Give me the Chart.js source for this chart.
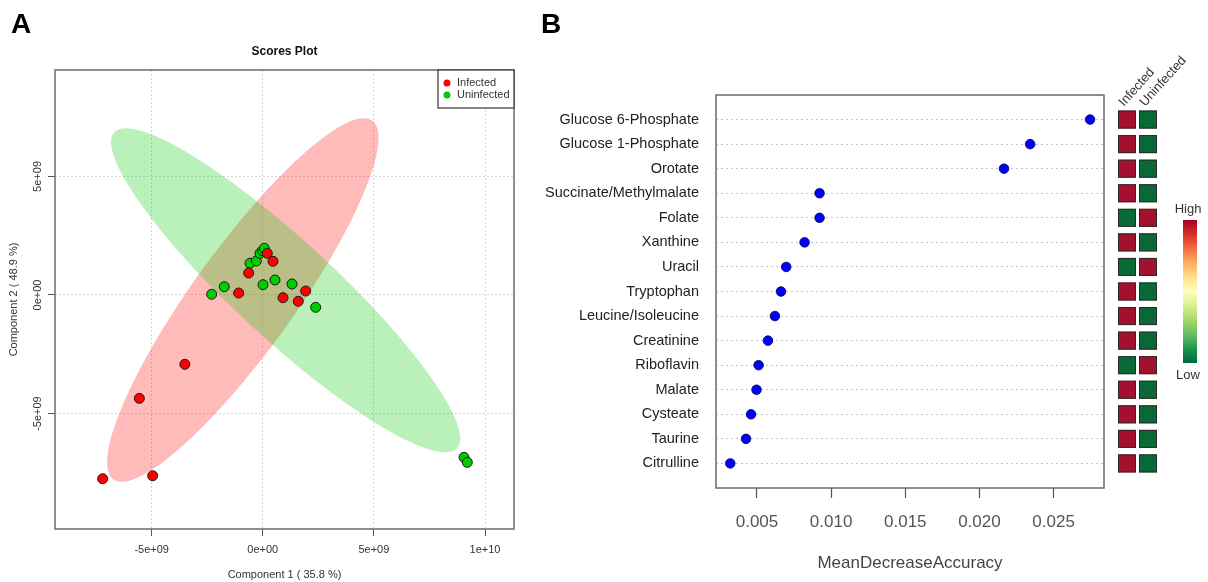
<!DOCTYPE html>
<html lang="en">
<head>
<meta charset="UTF-8">
<title>Scores Plot / MeanDecreaseAccuracy</title>
<script src="https://cdn.jsdelivr.net/npm/chart.js"></script>
<style>
  html, body { margin: 0; padding: 0; background: #fff; }
  #wrap { position: relative; width: 1208px; height: 582px; overflow: hidden; }
  #panelA { position: absolute; left: 0; top: 0; }
  #panelB { position: absolute; left: 540px; top: 0; }
</style>
</head>
<body>
<div id="wrap">
  <canvas id="panelA" width="540" height="582"></canvas>
  <canvas id="panelB" width="668" height="582"></canvas>
</div>
<script>
// ---------- panel A: scores plot ----------
const groupNames = ['Infected', 'Uninfected'];
const groupColors = ['#ff0000', '#00cc00'];
const ellipseFills = ['rgba(255,0,0,0.27)', 'rgba(0,205,0,0.27)'];

const infectedX = [-1.085e9, -0.635e9, 0.203e9, 0.459e9, 0.909e9, 1.598e9, 1.931e9, -3.506e9, -5.554e9, -7.205e9, -4.955e9];
const infectedY = [0.084e9, 0.928e9, 1.759e9, 1.422e9, -0.114e9, -0.266e9, 0.169e9, -2.924e9, -4.359e9, -7.751e9, -7.624e9];
const uninfectedX = [-2.300e9, -1.733e9, -0.576e9, -0.293e9, -0.126e9, -0.005e9, 0.068e9, 0.009e9, 0.549e9, 1.314e9, 2.381e9, 9.055e9, 9.203e9];
const uninfectedY = [0.030e9, 0.350e9, 1.338e9, 1.435e9, 1.759e9, 1.869e9, 1.970e9, 0.435e9, 0.633e9, 0.464e9, -0.519e9, -6.848e9, -7.059e9];

// 95% regions: centre and two conjugate semi-axes (data units)
const infectedEllipseCenter = [-0.898e9, -0.211e9];
const infectedEllipseAxes = [[5.821e9, 7.566e9], [-1.85e9, 1.25e9]];
const uninfectedEllipseCenter = [1.028e9, 0.196e9];
const uninfectedEllipseAxes = [[7.712e9, -6.662e9], [1.50e9, 1.53e9]];

const scoreXTicks = [-5e9, 0, 5e9, 1e10];
const scoreXTickLabels = ['-5e+09', '0e+00', '5e+09', '1e+10'];
const scoreYTicks = [-5e9, 0, 5e9];
const scoreYTickLabels = ['-5e+09', '0e+00', '5e+09'];
const scoreXTitle = 'Component 1 ( 35.8 %)';
const scoreYTitle = 'Component 2 ( 48.9 %)';

// ---------- panel B: variable importance ----------
const metabolites = ['Glucose 6-Phosphate', 'Glucose 1-Phosphate', 'Orotate', 'Succinate/Methylmalate', 'Folate',
  'Xanthine', 'Uracil', 'Tryptophan', 'Leucine/Isoleucine', 'Creatinine', 'Riboflavin', 'Malate',
  'Cysteate', 'Taurine', 'Citrulline'];
const meanDecreaseAccuracy = [0.02746, 0.02342, 0.02166, 0.00922, 0.00922, 0.00821, 0.00697, 0.00662,
  0.00621, 0.00574, 0.00511, 0.00497, 0.00460, 0.00426, 0.00320];
const mdaTicks = [0.005, 0.010, 0.015, 0.020, 0.025];
const mdaTickLabels = ['0.005', '0.010', '0.015', '0.020', '0.025'];
// relative level per group: 1 = high, 0 = low
const infectedLevel   = [1, 1, 1, 1, 0, 1, 0, 1, 1, 1, 0, 1, 1, 1, 1];
const uninfectedLevel = [0, 0, 0, 0, 1, 0, 1, 0, 0, 0, 1, 0, 0, 0, 0];
const heatColors = ['#0a6a37', '#a3112e'];
const scaleStops = ['#a50026', '#d73027', '#f46d43', '#fdae61', '#fee08b', '#ffffbf',
  '#d9ef8b', '#a6d96a', '#66bd63', '#1a9850', '#006837'];

const FONT = '"Liberation Sans", Arial, sans-serif';
Chart.defaults.font.family = FONT;

function drawEllipse(chart, center, axes, fill) {
  const xs = chart.scales.x, ys = chart.scales.y, ctx = chart.ctx;
  const cx = xs.getPixelForValue(center[0]), cy = ys.getPixelForValue(center[1]);
  const ux = xs.getPixelForValue(center[0] + axes[0][0]) - cx;
  const uy = ys.getPixelForValue(center[1] + axes[0][1]) - cy;
  const vx = xs.getPixelForValue(center[0] + axes[1][0]) - cx;
  const vy = ys.getPixelForValue(center[1] + axes[1][1]) - cy;
  ctx.save();
  ctx.beginPath();
  ctx.transform(ux, uy, vx, vy, cx, cy);
  ctx.arc(0, 0, 1, 0, Math.PI * 2);
  ctx.restore();
  ctx.fillStyle = fill;
  ctx.fill();
}

const scoresDecor = {
  id: 'scoresDecor',
  beforeDatasetsDraw(chart) {
    const a = chart.chartArea, ctx = chart.ctx;
    ctx.save();
    ctx.beginPath();
    ctx.rect(a.left, a.top, a.right - a.left, a.bottom - a.top);
    ctx.clip();
    drawEllipse(chart, infectedEllipseCenter, infectedEllipseAxes, ellipseFills[0]);
    drawEllipse(chart, uninfectedEllipseCenter, uninfectedEllipseAxes, ellipseFills[1]);
    ctx.restore();
  },
  afterDraw(chart) {
    const a = chart.chartArea, ctx = chart.ctx, ys = chart.scales.y;
    ctx.save();
    // box
    ctx.strokeStyle = '#6a6a6a';
    ctx.lineWidth = 1.5;
    ctx.strokeRect(a.left, a.top, a.right - a.left, a.bottom - a.top);

    // legend
    const lw = 76, lh = 38;
    ctx.fillStyle = '#fff';
    ctx.fillRect(a.right - lw, a.top, lw, lh);
    ctx.strokeStyle = '#333';
    ctx.lineWidth = 1.2;
    ctx.strokeRect(a.right - lw, a.top, lw, lh);
    ctx.font = '11px ' + FONT;
    ctx.textBaseline = 'middle';
    ctx.textAlign = 'left';
    groupNames.forEach((name, i) => {
      const y = a.top + 13 + i * 12;
      ctx.fillStyle = groupColors[i];
      ctx.beginPath();
      ctx.arc(a.right - lw + 9, y, 3.5, 0, Math.PI * 2);
      ctx.fill();
      ctx.fillStyle = '#333';
      ctx.fillText(name, a.right - lw + 19, y);
    });

    // rotated y tick labels
    ctx.fillStyle = '#333';
    ctx.font = '11px ' + FONT;
    ctx.textAlign = 'center';
    ys.ticks.forEach((t, i) => {
      ctx.save();
      ctx.translate(38, ys.getPixelForValue(t.value));
      ctx.rotate(-Math.PI / 2);
      ctx.fillText(scoreYTickLabels[i], 0, 0);
      ctx.restore();
    });

    // axis titles
    ctx.fillText(scoreXTitle, (a.left + a.right) / 2, 575);
    ctx.save();
    ctx.translate(14, (a.top + a.bottom) / 2);
    ctx.rotate(-Math.PI / 2);
    ctx.fillText(scoreYTitle, 0, 0);
    ctx.restore();

    // title and panel letter
    ctx.fillStyle = '#111';
    ctx.font = 'bold 12px ' + FONT;
    ctx.fillText('Scores Plot', (a.left + a.right) / 2, 52);
    ctx.fillStyle = '#000';
    ctx.font = 'bold 28px ' + FONT;
    ctx.textAlign = 'left';
    ctx.textBaseline = 'alphabetic';
    ctx.fillText('A', 11, 33);
    ctx.restore();
  }
};

new Chart(document.getElementById('panelA'), {
  type: 'scatter',
  data: {
    datasets: [
      {
        label: groupNames[0],
        data: infectedX.map((x, i) => ({ x: x, y: infectedY[i] })),
        backgroundColor: groupColors[0], borderColor: '#1a1a1a', borderWidth: 1, pointRadius: 5
      },
      {
        label: groupNames[1],
        data: uninfectedX.map((x, i) => ({ x: x, y: uninfectedY[i] })),
        backgroundColor: groupColors[1], borderColor: '#1a1a1a', borderWidth: 1, pointRadius: 5
      }
    ]
  },
  options: {
    responsive: false,
    animation: false,
    layout: { padding: { left: 0, top: 70, right: 26, bottom: 0 } },
    plugins: { legend: { display: false }, tooltip: { enabled: false } },
    scales: {
      x: {
        type: 'linear', min: -9.35e9, max: 11.305e9,
        afterBuildTicks: s => { s.ticks = scoreXTicks.map(v => ({ value: v })); },
        afterFit: s => { s.height = 53; },
        ticks: {
          autoSkip: false, maxRotation: 0, color: '#333', font: { size: 11 }, padding: 7,
          callback: (v, i) => scoreXTickLabels[i]
        },
        grid: { color: '#d6d6d6', lineWidth: 1, tickLength: 7, tickColor: '#555', tickWidth: 1 },
        border: { display: false, dash: [2, 2] }
      },
      y: {
        type: 'linear', min: -9.87e9, max: 9.49e9,
        afterBuildTicks: s => { s.ticks = scoreYTicks.map(v => ({ value: v })); },
        afterFit: s => { s.width = 55; },
        ticks: { autoSkip: false, color: 'rgba(0,0,0,0)', font: { size: 11 }, callback: (v, i) => scoreYTickLabels[i] },
        grid: { color: '#d6d6d6', lineWidth: 1, tickLength: 7, tickColor: '#555', tickWidth: 1 },
        border: { display: false, dash: [2, 2] }
      }
    }
  },
  plugins: [scoresDecor]
});

// ---------- panel B ----------
const importanceDecor = {
  id: 'importanceDecor',
  afterDraw(chart) {
    const a = chart.chartArea, ctx = chart.ctx, ys = chart.scales.y;
    ctx.save();
    ctx.strokeStyle = '#6a6a6a';
    ctx.lineWidth = 1.5;
    ctx.strokeRect(a.left, a.top, a.right - a.left, a.bottom - a.top);

    ctx.fillStyle = '#444';
    ctx.font = '17px ' + FONT;
    ctx.textAlign = 'center';
    ctx.textBaseline = 'middle';
    ctx.fillText('MeanDecreaseAccuracy', (a.left + a.right) / 2, 563);

    // group level heatmap
    const cols = [a.right + 14, a.right + 35];
    const size = 18;
    metabolites.forEach((m, i) => {
      const y = ys.getPixelForValue(i + 1);
      [infectedLevel[i], uninfectedLevel[i]].forEach((lv, c) => {
        ctx.fillStyle = heatColors[lv];
        ctx.fillRect(cols[c], y - size / 2, size, size);
        ctx.strokeStyle = '#2a2a2a';
        ctx.lineWidth = 1;
        ctx.strokeRect(cols[c] + 0.5, y - size / 2 + 0.5, size - 1, size - 1);
      });
    });
    ctx.fillStyle = '#333';
    ctx.font = '13px ' + FONT;
    ctx.textAlign = 'left';
    ctx.textBaseline = 'alphabetic';
    groupNames.forEach((name, c) => {
      ctx.save();
      ctx.translate(cols[c] + 6, a.top + 12);
      ctx.rotate(-48 * Math.PI / 180);
      ctx.fillText(name, 0, 0);
      ctx.restore();
    });

    // colour key
    const bx = a.right + 79, top = 220, bottom = 363;
    const grad = ctx.createLinearGradient(0, top, 0, bottom);
    scaleStops.forEach((c, i) => grad.addColorStop(i / (scaleStops.length - 1), c));
    ctx.fillStyle = grad;
    ctx.fillRect(bx, top, 14, bottom - top);
    ctx.fillStyle = '#333';
    ctx.font = '13px ' + FONT;
    ctx.textAlign = 'center';
    ctx.textBaseline = 'middle';
    ctx.fillText('High', bx + 5, 209);
    ctx.fillText('Low', bx + 5, 375);

    ctx.fillStyle = '#000';
    ctx.font = 'bold 28px ' + FONT;
    ctx.textAlign = 'left';
    ctx.textBaseline = 'alphabetic';
    ctx.fillText('B', 1, 33);
    ctx.restore();
  }
};

new Chart(document.getElementById('panelB'), {
  type: 'scatter',
  data: {
    datasets: [{
      label: 'MeanDecreaseAccuracy',
      data: meanDecreaseAccuracy.map((v, i) => ({ x: v, y: i + 1 })),
      backgroundColor: '#0000ff', borderColor: '#00005a', borderWidth: 0.8, pointRadius: 4.8
    }]
  },
  options: {
    responsive: false,
    animation: false,
    layout: { padding: { left: 0, top: 95, right: 104, bottom: 0 } },
    plugins: { legend: { display: false }, tooltip: { enabled: false } },
    scales: {
      x: {
        type: 'linear', min: 0.002237, max: 0.0284,
        afterBuildTicks: s => { s.ticks = mdaTicks.map(v => ({ value: v })); },
        afterFit: s => { s.height = 94; },
        ticks: {
          autoSkip: false, maxRotation: 0, color: '#555', font: { size: 17 }, padding: 14,
          callback: (v, i) => mdaTickLabels[i]
        },
        grid: { drawOnChartArea: false, tickLength: 10, tickColor: '#555', tickWidth: 1.2 },
        border: { display: false }
      },
      y: {
        type: 'linear', min: 0, max: 16, reverse: true,
        afterBuildTicks: s => { s.ticks = metabolites.map((m, i) => ({ value: i + 1 })); },
        afterFit: s => { s.width = 176; },
        ticks: {
          autoSkip: false, color: '#222', font: { size: 14.5 }, padding: 17,
          callback: (v, i) => metabolites[i]
        },
        grid: { drawTicks: false, color: '#c4c4c4', lineWidth: 1 },
        border: { display: false, dash: [2, 3] }
      }
    }
  },
  plugins: [importanceDecor]
});
</script>
</body>
</html>
